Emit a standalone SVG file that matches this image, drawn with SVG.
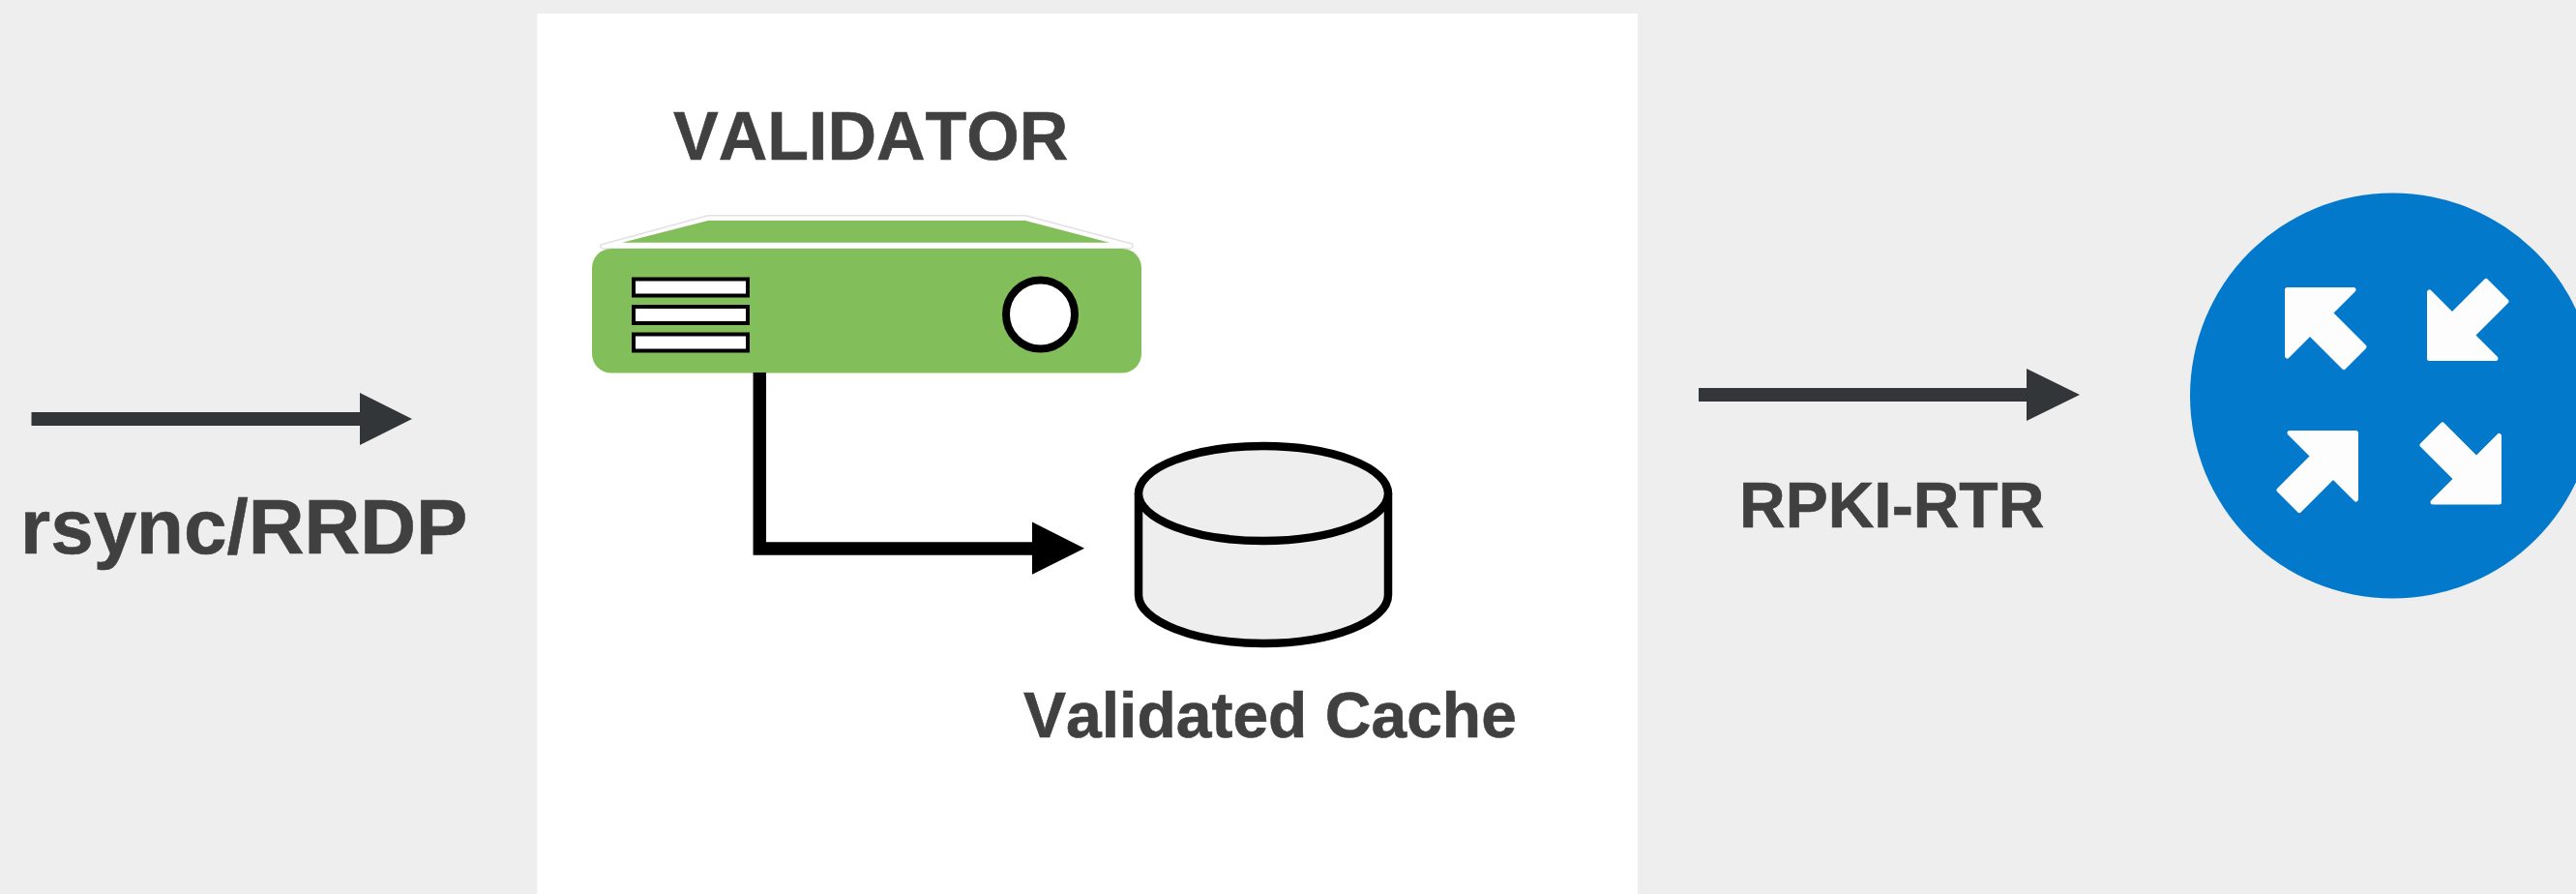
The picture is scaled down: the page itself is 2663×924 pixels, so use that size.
<svg xmlns="http://www.w3.org/2000/svg" width="2663" height="924" viewBox="0 0 2663 924">
<style>
text{font-family:"Liberation Sans",Arial,sans-serif;font-weight:700;fill:#404040;stroke:#404040;stroke-width:.6;font-kerning:none}
.slot{fill:#fff;stroke:#000;stroke-width:4}
.ra{fill:#fdfdfd;stroke:#fdfdfd;stroke-width:5;stroke-linejoin:round}
.cyl{fill:#eee;stroke:#000;stroke-width:8.500}
</style>
<defs>
<polygon id="router-arrow" class="ra" points="2364.500,299.500 2433,299.500 2409,323.500 2444,358.500 2423,379.500 2388,344.500 2364.500,368"/>
</defs>
<rect id="background" width="2663" height="924" fill="#eeeeee"/>
<rect id="validator-panel" x="555.5" y="14" width="1137.5" height="910" fill="#ffffff"/>
<g id="validator">
<text x="696" y="165" font-size="70">VALIDATOR</text>
<path d="M621 253Q619 256 624 257L1168 257Q1173 256 1170 252L1060 222.700L732 222.700Z" fill="#fff" stroke="#e2e2e2" stroke-width="1.500"/>
<polygon points="643,250.700 732,228 1060,228 1147,250.700" fill="#82bf5a"/>
<rect x="612" y="257" width="568" height="128.500" rx="20" fill="#82bf5a"/>
<rect class="slot" x="655" y="288.500" width="118" height="17"/>
<rect class="slot" x="655" y="317" width="118" height="17"/>
<rect class="slot" x="655" y="345.500" width="118" height="17"/>
<circle cx="1075.500" cy="325" r="35.500" fill="#fff" stroke="#000" stroke-width="8"/>
</g>
<g id="validated-cache">
<path class="cyl" d="M1177 510V615C1177 642 1235 665 1306 665C1377 665 1435 642 1435 615V510"/>
<ellipse class="cyl" cx="1306" cy="510" rx="129" ry="49"/>
<text x="1058" y="762" font-size="66">Validated Cache</text>
</g>
<g id="router">
<circle cx="2473.500" cy="409" r="209.500" fill="#0379cc"/>
<use href="#router-arrow"/>
<use href="#router-arrow" transform="matrix(1 0 0 -1 147 670)"/>
<use href="#router-arrow" transform="matrix(-1 0 0 1 4800 148)"/>
<use href="#router-arrow" transform="matrix(-1 0 0 -1 4948 818.500)"/>
</g>
<g id="connectors">
<g id="conn-ingest">
<rect x="32.500" y="426" width="340" height="14" fill="#323639"/>
<polygon points="372,406 426,433 372,460" fill="#323639"/>
<text x="21" y="572" font-size="80">rsync/RRDP</text>
</g>
<g id="conn-store">
<path d="M785.300 385V567H1070" fill="none" stroke="#000" stroke-width="13.500"/>
<polygon points="1067,539.500 1121,566.700 1067,593.700" fill="#000"/>
</g>
<g id="conn-rtr">
<rect x="1756" y="401" width="340" height="14" fill="#323639"/>
<polygon points="2095,381 2150,408 2095,435" fill="#323639"/>
<text x="1798" y="545" font-size="66">RPKI-RTR</text>
</g>
</g>
</svg>
